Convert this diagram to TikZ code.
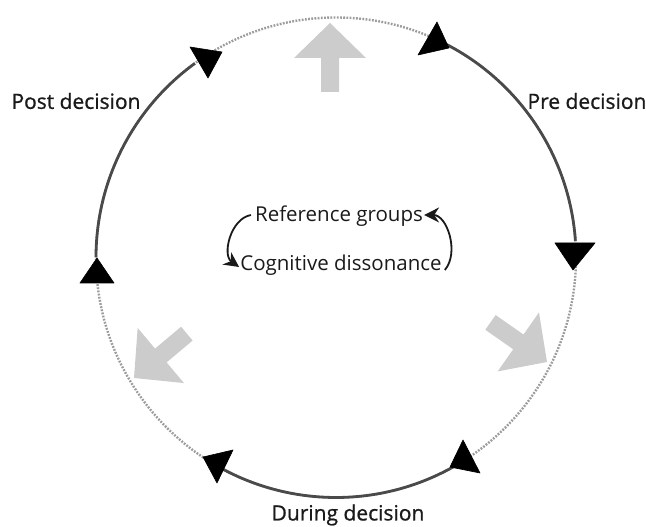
\documentclass[tikz,border=0pt]{standalone}
\usepackage{fontspec}
\setmainfont{Open Sans}
\newfontfamily\labelfont[FakeBold=0.9]{Open Sans}
\usetikzlibrary{arrows.meta}
\definecolor{arcdark}{HTML}{4A4A4A}
\definecolor{arcdot}{HTML}{9C9C9C}
\definecolor{blockgray}{HTML}{CCCCCC}
\definecolor{txt}{HTML}{1A1A1A}
\tikzset{
  solidarc/.style={draw=arcdark, line width=2.8pt},
  dotarc/.style={draw=arcdot, line width=2.4pt, dash pattern=on 1.8pt off 1.4pt},
  marker/.style={fill=black, draw=black, line width=0.6pt, line join=round},
  blockarrow/.style={fill=blockgray, draw=none},
  outerlabel/.style={font=\labelfont\fontsize{21}{24}\selectfont, text=txt, inner sep=0pt},
  innerlabel/.style={font=\fontsize{20.5}{24}\selectfont, text=txt, inner sep=0pt},
  smallarrow/.style={draw=txt, line width=1.8pt, -{Stealth[length=15pt,width=15pt]}}
}
\begin{document}
\begin{tikzpicture}[x=1pt,y=1pt]
\useasboundingbox (0,0) rectangle (646,527);
\coordinate (c) at (336,269.5);
% full dotted circle
\draw[dotarc] (c) circle[radius=240];
% solid arcs
\draw[solidarc] (c) ++(63:240) arc[start angle=63, end angle=4, radius=240];
\draw[solidarc] (c) ++(-59:240) arc[start angle=-59, end angle=-118, radius=240];
\draw[solidarc] (c) ++(180:240) arc[start angle=180, end angle=126, radius=240];
% triangle markers
\draw[marker] (190,480) -- (222,475) -- (208,449) -- cycle;
\draw[marker] (437,505) -- (418,472) -- (449,479) -- cycle;
\draw[marker] (555,284) -- (595,284) -- (573,257) -- cycle;
\draw[marker] (463,87) -- (450,60) -- (480,54) -- cycle;
\draw[marker] (203,70) -- (233,77) -- (217,44) -- cycle;
\draw[marker] (97,269) -- (80,244) -- (114,244) -- cycle;
% block arrows
\foreach \tx/\ty/\ang in {330/504/90, 547/165/-35, 134/149/220}{
  \begin{scope}[shift={(\tx,\ty)}, rotate=\ang]
    \path[blockarrow] (0,0) -- (-35,36) -- (-35,9) -- (-69,9) -- (-69,-9) -- (-35,-9) -- (-35,-36) -- cycle;
  \end{scope}
}
% labels
\node[outerlabel] (post) at (76,426) {Post decision};
\node[outerlabel] (pre) at (587,426) {Pre decision};
\node[outerlabel] (during) at (348,12) {During decision};
\node[innerlabel] (ref) at (339,311) {Reference groups};
\node[innerlabel] (cog) at (341,262) {Cognitive dissonance};
% small curved arrows
\draw[smallarrow] ([xshift=-4pt,yshift=1pt]ref.west) to[out=190,in=145] ([xshift=-1pt,yshift=-2pt]cog.west);
\draw[smallarrow] ([xshift=3pt,yshift=-5pt]cog.east) to[out=50,in=0] ([xshift=1pt,yshift=1pt]ref.east);
\end{tikzpicture}
\end{document}
